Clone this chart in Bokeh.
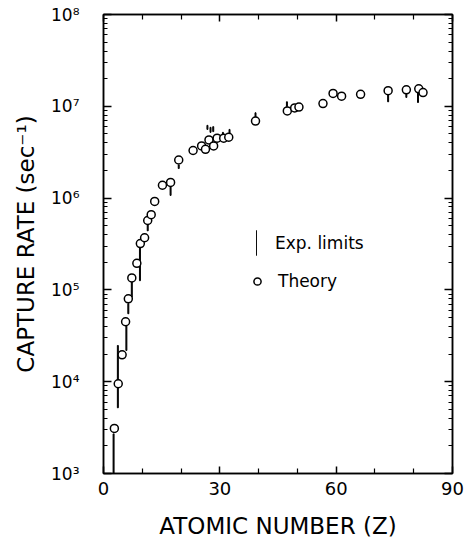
from bokeh.plotting import figure
from bokeh.models import Range1d, FixedTicker, LinearAxis, LogAxis, Legend, LegendItem
from bokeh.embed import file_html
from bokeh.resources import INLINE

# ---- data ----
z_theory = [2.8, 3.8, 4.8, 5.7, 6.4, 7.3, 8.6, 9.5, 10.6, 11.4, 12.3, 13.2, 15.2, 17.3,
            19.4, 23.1, 25.3, 26.3, 27.2, 28.4, 29.3, 31.0, 32.3, 39.2, 47.4, 49.3, 50.4,
            56.6, 59.2, 61.4, 66.3, 73.4, 78.1, 81.3, 82.4]
rate_theory = [3.1e3, 9.5e3, 1.96e4, 4.5e4, 8.0e4, 1.35e5, 1.95e5, 3.2e5, 3.7e5, 5.7e5,
               6.6e5, 9.2e5, 1.38e6, 1.48e6, 2.6e6, 3.3e6, 3.7e6, 3.4e6, 4.3e6, 3.7e6,
               4.5e6, 4.5e6, 4.6e6, 6.9e6, 8.9e6, 9.6e6, 9.8e6, 1.07e7, 1.38e7, 1.29e7,
               1.35e7, 1.48e7, 1.51e7, 1.55e7, 1.41e7]

z_exp = [2.6, 3.7, 5.9, 6.4, 7.3, 9.4, 11.4, 17.3, 19.4, 26.8, 27.6, 28.3, 30.8, 32.5,
         39.2, 47.3, 73.4, 78.1, 81.1]
exp_low = [5.0e2, 5.2e3, 2.19e4, 5.5e4, 8.3e4, 1.26e5, 4.4e5, 1.07e6, 2.1e6, 5.6e6, 5.2e6,
           5.3e6, 4.5e6, 4.57e6, 7.55e6, 9.95e6, 1.12e7, 1.25e7, 1.1e7]
exp_high = [2.7e3, 2.48e4, 4.1e4, 7.1e4, 1.23e5, 2.9e5, 5.1e5, 1.34e6, 2.3e6, 6.2e6, 5.9e6,
            6.0e6, 5.2e6, 5.6e6, 8.5e6, 1.12e7, 1.35e7, 1.38e7, 1.56e7]

x_major = [0, 30, 60, 90]
x_minor = [10, 20, 40, 50, 70, 80]
y_decades = [1e3, 1e4, 1e5, 1e6, 1e7, 1e8]
y_labels = ["10\u00b3", "10\u2074", "10\u2075", "10\u2076", "10\u2077", "10\u2078"]
y_minor = [k * d for d in y_decades[:-1] for k in range(2, 10)]
x_title = "ATOMIC NUMBER (Z)"
y_title = "CAPTURE RATE (sec\u207b\u00b9)"
legend_labels = ["Exp. limits", "Theory"]

FONT = "DejaVu Sans"

p = figure(frame_width=349, frame_height=459,
           min_border_left=103, min_border_right=17, min_border_top=14, min_border_bottom=68,
           x_range=Range1d(0, 90), y_range=Range1d(1e3, 1e8), y_axis_type="log",
           x_axis_location=None, y_axis_location=None,
           output_backend="svg", toolbar_location=None)
p.xgrid.visible = False
p.ygrid.visible = False
p.outline_line_color = "black"
p.outline_line_width = 1.5
p.background_fill_color = "white"
p.border_fill_color = "white"


def style_axis(ax, major_in, minor_in):
    ax.major_tick_in = major_in
    ax.major_tick_out = 0
    ax.minor_tick_in = minor_in
    ax.minor_tick_out = 0
    ax.axis_line_width = 1.5
    ax.axis_line_color = "black"
    ax.major_tick_line_width = 1.5
    ax.minor_tick_line_width = 1.2
    ax.major_tick_line_color = "black"
    ax.minor_tick_line_color = "black"


xb = LinearAxis(ticker=FixedTicker(ticks=x_major, minor_ticks=x_minor), axis_label=x_title)
style_axis(xb, 7, 5)
xb.major_label_text_font = FONT
xb.major_label_text_font_size = "18px"
xb.major_label_text_color = "black"
xb.major_label_standoff = 8
xb.axis_label_text_font = FONT
xb.axis_label_text_font_size = "23px"
xb.axis_label_text_font_style = "normal"
xb.axis_label_text_color = "black"
xb.axis_label_standoff = 15
p.add_layout(xb, "below")

xt = LinearAxis(ticker=FixedTicker(ticks=x_major, minor_ticks=x_minor),
                major_label_overrides={t: "" for t in x_major})
style_axis(xt, 7, 5)
xt.major_label_standoff = 0
xt.major_label_text_font_size = "2px"
p.add_layout(xt, "above")

yl = LogAxis(ticker=FixedTicker(ticks=y_decades, minor_ticks=y_minor),
             major_label_overrides=dict(zip(y_decades, y_labels)), axis_label=y_title)
style_axis(yl, 8, 4)
yl.major_label_text_font = FONT
yl.major_label_text_font_size = "17px"
yl.major_label_text_color = "black"
yl.major_label_standoff = 24
yl.axis_label_text_font = FONT
yl.axis_label_text_font_size = "23px"
yl.axis_label_text_font_style = "normal"
yl.axis_label_text_color = "black"
yl.axis_label_standoff = 9
p.add_layout(yl, "left")

yr = LogAxis(ticker=FixedTicker(ticks=y_decades, minor_ticks=y_minor),
             major_label_overrides={t: "" for t in y_decades})
style_axis(yr, 8, 4)
yr.major_label_standoff = 0
yr.major_label_text_font_size = "2px"
p.add_layout(yr, "right")

bars = p.vbar(x=z_exp, width=0.25, bottom=exp_low, top=exp_high,
              fill_color="black", line_color="black", line_width=1)
theory = p.scatter(z_theory, rate_theory, marker="circle", size=8,
                   fill_color="white", line_color="black", line_width=1.5)

leg1 = Legend(items=[LegendItem(label=legend_labels[0], renderers=[bars])],
              location=(153, 215), glyph_width=1, glyph_height=31, label_standoff=18,
              padding=0, border_line_alpha=0, background_fill_alpha=0,
              label_text_font=FONT, label_text_font_size="17px", label_text_color="black")
leg2 = Legend(items=[LegendItem(label=legend_labels[1], renderers=[theory])],
              location=(145, 182), glyph_width=18, glyph_height=18, label_standoff=12,
              padding=0, border_line_alpha=0, background_fill_alpha=0,
              label_text_font=FONT, label_text_font_size="17px", label_text_color="black")
p.add_layout(leg1)
p.add_layout(leg2)

open("out.html", "w").write(file_html(p, INLINE))
